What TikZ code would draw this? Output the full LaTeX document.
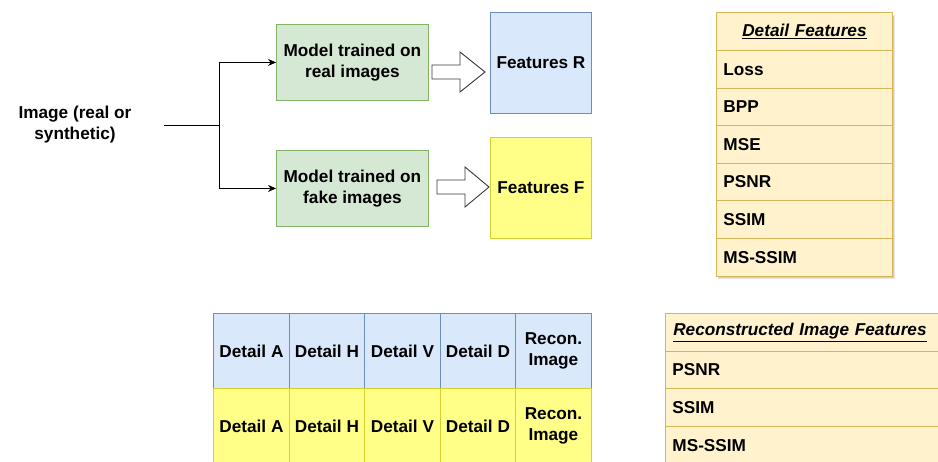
\documentclass[tikz,border=0pt]{standalone}
\usepackage{fontspec}
\setmainfont{Liberation Sans}
\usetikzlibrary{arrows.meta}
\definecolor{gfill}{HTML}{D5E8D4}\definecolor{gdraw}{HTML}{82B366}
\definecolor{bfill}{HTML}{DAE8FC}\definecolor{bdraw}{HTML}{6C8EBF}
\definecolor{yfill}{HTML}{FFFF88}\definecolor{ydraw}{HTML}{D4D030}
\definecolor{tfill}{HTML}{FFF2CC}\definecolor{tdraw}{HTML}{D6B656}
\definecolor{adraw}{HTML}{3A3A3A}
\tikzset{
  lbl/.style={font=\fontsize{17.2}{21}\selectfont\bfseries, align=center, inner sep=0pt},
  cellbox/.style={rectangle, inner sep=0pt, anchor=north west, line width=0.9pt,
    font=\fontsize{17.2}{21}\selectfont\bfseries, align=center},
  greenbox/.style={cellbox, fill=gfill, draw=gdraw},
  bluebox/.style={cellbox, fill=bfill, draw=bdraw},
  yelbox/.style={cellbox, fill=yfill, draw=ydraw},
  tabrow/.style={cellbox, fill=tfill, draw=tdraw, text width=#1, align=left, inner xsep=7pt},
  tabhead/.style={cellbox, fill=tfill, draw=tdraw, text width=#1, align=center, font=\fontsize{17.2}{21}\selectfont\bfseries\itshape},
  hollow/.style={draw=adraw, fill=white, line width=0.9pt, line join=miter},
  conn/.style={draw=black, line width=0.9pt, -{Stealth[length=8pt,width=7pt]}},
}
\begin{document}
\begin{tikzpicture}[x=1pt,y=-1pt]
\clip (0,0) rectangle (938,461);
\fill[white] (0,0) rectangle (938,461);

% input
\node[lbl] (img) at (75,125) {Image (real or\\synthetic)};
\coordinate (s) at (164,125);
\coordinate (j) at (219,125);

% models
\node[greenbox, minimum width=152, minimum height=76] (m1) at (276,24) {Model trained on\\real images};
\node[greenbox, minimum width=152, minimum height=76] (m2) at (276,150) {Model trained on\\fake images};
\draw[line width=0.9pt] (s) -- (j);
\draw[conn] (j) |- (m1.west);
\draw[conn] (j) |- (m2.west);

% features
\node[bluebox, minimum width=101, minimum height=101] (fr) at (490,12) {Features R};
\node[yelbox, minimum width=101, minimum height=101] (ff) at (490,137) {Features F};

% hollow arrows
\draw[hollow] (432,65) -- (460,65) -- (460,52) -- (485,72) -- (460,92) -- (460,79) -- (432,79) -- cycle;
\draw[hollow] (437,180) -- (465,180) -- (465,167) -- (489,187) -- (465,207) -- (465,194) -- (437,194) -- cycle;

% Detail features table (shadow)
\fill[black, opacity=0.10] (718,15) rectangle (895,279);
\fill[black, opacity=0.10] (719,16) rectangle (894,278);
\node[tabhead=176pt, minimum height=38] (dh) at (716,12) {\underline{Detail Features}};
\node[tabrow=162pt, minimum height=38] (d1) at (716,50) {Loss};
\node[tabrow=162pt, minimum height=37] (d2) at (716,88) {BPP};
\node[tabrow=162pt, minimum height=38] (d3) at (716,125) {MSE};
\node[tabrow=162pt, minimum height=37] (d4) at (716,163) {PSNR};
\node[tabrow=162pt, minimum height=38] (d5) at (716,200) {SSIM};
\node[tabrow=162pt, minimum height=38] (d6) at (716,238) {MS-SSIM};

% bottom table
\node[bluebox, minimum width=76, minimum height=75] (ba) at (213,313) {Detail A};
\node[bluebox, minimum width=75, minimum height=75] (bh) at (289,313) {Detail H};
\node[bluebox, minimum width=76, minimum height=75] (bv) at (364,313) {Detail V};
\node[bluebox, minimum width=75, minimum height=75] (bd) at (440,313) {Detail D};
\node[bluebox, minimum width=76, minimum height=75] (br) at (515,313) {Recon.\\Image};
\node[yelbox, minimum width=76, minimum height=75] (ya) at (213,388) {Detail A};
\node[yelbox, minimum width=75, minimum height=75] (yh) at (289,388) {Detail H};
\node[yelbox, minimum width=76, minimum height=75] (yv) at (364,388) {Detail V};
\node[yelbox, minimum width=75, minimum height=75] (yd) at (440,388) {Detail D};
\node[yelbox, minimum width=76, minimum height=75] (yr) at (515,388) {Recon.\\Image};

% Reconstructed image features table
\node[tabhead=285pt, minimum height=38, text width=285pt] (rh) at (665,313) {\hspace*{-16pt}\underline{Reconstructed Image Features}\hfill};
\node[tabrow=271pt, minimum height=37] (r1) at (665,351) {PSNR};
\node[tabrow=271pt, minimum height=38] (r2) at (665,388) {SSIM};
\node[tabrow=271pt, minimum height=38] (r3) at (665,426) {MS-SSIM};
\end{tikzpicture}
\end{document}
